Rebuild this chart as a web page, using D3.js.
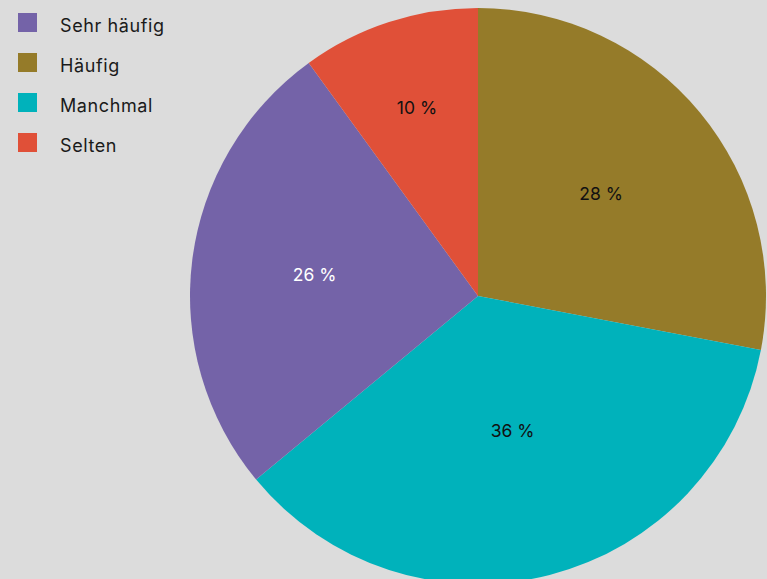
<!DOCTYPE html>
<html>
<head>
<meta charset="utf-8">
<script src="https://cdn.jsdelivr.net/npm/d3@7"></script>
<style>
  html, body { margin: 0; padding: 0; background: #dcdcdc; }
  svg { display: block; font-family: Inter, "Noto Sans", sans-serif; }
</style>
</head>
<body>
<div id="chart"></div>
<script>
// categories in pie order (clockwise from 12 o'clock)
const categories = ['Häufig', 'Manchmal', 'Sehr häufig', 'Selten'];
const values = [28, 36, 26, 10];
const legendOrder = ['Sehr häufig', 'Häufig', 'Manchmal', 'Selten'];
const colors = ['#957b29', '#00b2bb', '#7463a8', '#e05038'];
const labelColors = ['#111', '#111', '#fff', '#111'];

const width = 767, height = 579;
const cx = 478, cy = 296, R = 288;

const svg = d3.select('#chart').append('svg')
  .attr('width', width).attr('height', height);

const color = d3.scaleOrdinal().domain(categories).range(colors);

const pie = d3.pie().sort(null).value(d => d.value);
const arcs = pie(categories.map((c, i) => ({ label: c, value: values[i] })));
const arc = d3.arc().innerRadius(0).outerRadius(R);

const g = svg.append('g').attr('transform', `translate(${cx},${cy})`);

g.selectAll('path')
  .data(arcs)
  .enter()
  .append('path')
  .attr('d', arc)
  .attr('fill', d => color(d.data.label));

// label near the area centroid of each sector, pulled in a bit for wide slices
g.selectAll('text')
  .data(arcs)
  .enter()
  .append('text')
  .attr('transform', d => {
    const a = (d.endAngle - d.startAngle) / 2;
    const mid = (d.startAngle + d.endAngle) / 2;
    const r = 2 * R * Math.sin(a) / (3 * a) * (1.1 - 0.17 * a);
    return `translate(${r * Math.sin(mid)},${-r * Math.cos(mid)})`;
  })
  .attr('text-anchor', 'middle')
  .attr('dy', '0.35em')
  .style('font-size', '17.5px')
  .attr('fill', (d, i) => labelColors[i])
  .text(d => `${d.data.value} %`);

// legend
const legend = svg.append('g').attr('transform', 'translate(18,13)');
const row = legend.selectAll('g')
  .data(legendOrder)
  .enter()
  .append('g')
  .attr('transform', (d, i) => `translate(0,${i * 40})`);

row.append('rect')
  .attr('width', 19).attr('height', 19)
  .attr('fill', d => color(d));

row.append('text')
  .attr('x', 42).attr('y', 19)
  .style('font-size', '18px')
  .style('letter-spacing', '0.6px')
  .attr('fill', '#1a1a1a')
  .text(d => d);
</script>
</body>
</html>
